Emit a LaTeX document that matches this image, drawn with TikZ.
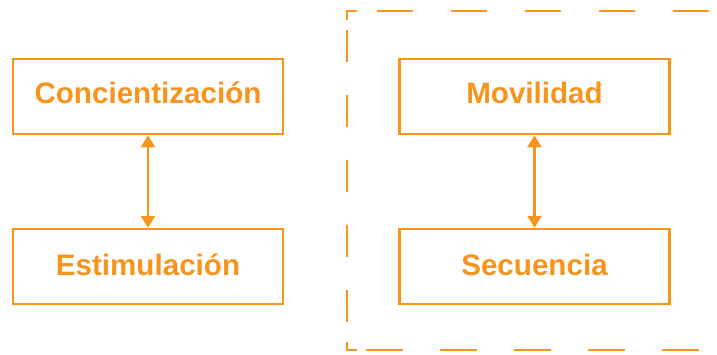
\documentclass[tikz,border=0pt]{standalone}
\usepackage{fontspec}
\setmainfont{Liberation Sans}
\usetikzlibrary{arrows.meta}
\definecolor{orng}{RGB}{247,148,30}
\begin{document}
\begin{tikzpicture}[x=1pt,y=-1pt,
  box/.style={draw=orng, line width=2.5pt, minimum width=270pt, minimum height=75pt,
    inner sep=0pt, text=orng, font=\bfseries\fontsize{29.6}{35}\selectfont, text depth=0pt},
  toprow/.style={text height=13pt},
  botrow/.style={text height=17pt},
  link/.style={draw=orng, line width=2.5pt, {Triangle[width=14pt,length=12pt]}-{Triangle[width=14pt,length=12pt]}},
  frame/.style={draw=orng, line width=2.5pt}
]
\useasboundingbox (0,0) rectangle (717,354);
\node[box,toprow] (conc) at (148,96.5) {Concientización};
\node[box,botrow] (esti) at (148,266.5) {Estimulación};
\node[box,toprow] (movi) at (534.5,96.5) {Movilidad};
\node[box,botrow] (secu) at (534.5,266.5) {Secuencia};
\draw[link] (conc.south) -- (esti.north);
\draw[link] (movi.south) -- (secu.north);
% dashed frame
\draw[frame] (357,11) -- (347,11) -- (347,20);
\draw[frame] (347,342) -- (347,350) -- (357,350);
\draw[frame, dash pattern=on 32pt off 33pt] (347,30) -- (347,323);
\draw[frame, dash pattern=on 36pt off 38pt] (377,11) -- (717,11);
\draw[frame, dash pattern=on 37pt off 37pt] (366,350) -- (717,350);
\end{tikzpicture}
\end{document}
